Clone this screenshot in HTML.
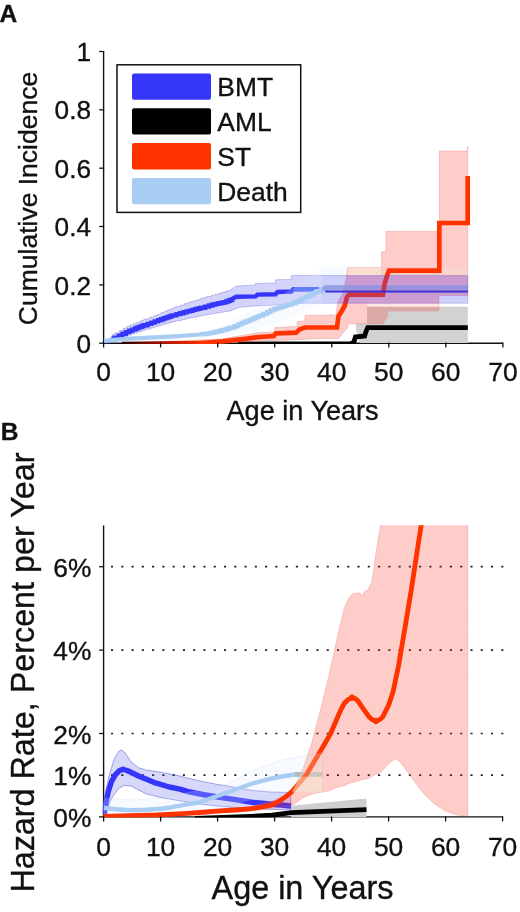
<!DOCTYPE html>
<html><head><meta charset="utf-8"><title>Figure</title>
<style>
html,body{margin:0;padding:0;background:#fff}
svg{display:block}
text{font-family:"Liberation Sans",sans-serif;fill:#111;stroke:#111;stroke-width:0.35px}
</style></head><body>
<svg width="520" height="912" viewBox="0 0 520 912">
<rect width="520" height="912" fill="#fff"/>
<g id="panelA">
<path d="M103.6,51.5 V343.2 H503" fill="none" stroke="#111" stroke-width="1.4"/>
<defs><clipPath id="ca"><rect x="102.9" y="40" width="420" height="304"/></clipPath></defs>
<g clip-path="url(#ca)">
<defs><clipPath id="cl"><rect x="100" y="40" width="222" height="310"/></clipPath><clipPath id="cr"><rect x="322" y="40" width="200" height="310"/></clipPath></defs>
<path d="M103.8,342.4 L108.0,341.0 L113.0,334.0 L114.9,334.0 L114.9,332.9 L119.1,332.9 L119.1,330.4 L123.1,330.4 L123.1,328.1 L126.8,328.1 L126.8,326.3 L130.3,326.3 L130.3,324.9 L133.5,324.9 L133.5,323.6 L136.4,323.6 L136.4,322.4 L139.1,322.4 L139.1,321.4 L141.5,321.4 L141.5,320.4 L143.7,320.4 L143.7,319.5 L145.6,319.5 L145.6,318.7 L149.9,318.7 L149.9,317.1 L153.8,317.1 L153.8,315.5 L157.5,315.5 L157.5,314.0 L161.0,314.0 L161.0,312.6 L164.2,312.6 L164.2,311.3 L167.1,311.3 L167.1,310.1 L169.8,310.1 L169.8,309.1 L172.3,309.1 L172.3,308.1 L174.4,308.1 L174.4,307.2 L176.4,307.2 L176.4,306.5 L180.6,306.5 L180.6,305.0 L184.6,305.0 L184.6,303.6 L188.3,303.6 L188.3,302.3 L191.7,302.3 L191.7,301.2 L194.9,301.2 L194.9,300.3 L197.9,300.3 L197.9,299.4 L200.6,299.4 L200.6,298.6 L203.0,298.6 L203.0,297.9 L205.2,297.9 L205.2,297.2 L207.1,297.2 L207.1,296.6 L211.3,296.6 L211.3,295.4 L215.3,295.4 L215.3,294.2 L219.0,294.2 L219.0,293.1 L222.4,293.1 L222.4,292.1 L225.6,292.1 L225.6,291.1 L228.6,291.1 L228.6,290.4 L231.3,290.4 L231.3,289.2 L232.0,289.2 L232.0,288.7 L236.3,286.0 L255.4,285.0 L255.4,283.6 L275.5,283.0 L275.5,279.8 L291.3,279.4 L291.3,275.6 L467.8,275.6 L467.8,303.2 L304.0,303.2 L293.5,304.1 L272.3,305.2 L251.0,306.3 L240.6,307.3 L232.0,309.9 L232.0,310.6 L229.6,310.6 L229.6,311.2 L226.6,311.2 L226.6,311.7 L223.4,311.7 L223.4,312.3 L220.0,312.3 L220.0,312.9 L216.3,312.9 L216.3,313.5 L212.3,313.5 L212.3,314.3 L208.1,314.3 L208.1,314.7 L206.2,314.7 L206.2,315.1 L204.0,315.1 L204.0,315.5 L201.6,315.5 L201.6,316.0 L198.9,316.0 L198.9,316.6 L195.9,316.6 L195.9,317.3 L192.7,317.3 L192.7,317.9 L189.3,317.9 L189.3,318.7 L185.6,318.7 L185.6,319.6 L181.6,319.6 L181.6,320.5 L177.4,320.5 L177.4,320.9 L175.4,320.9 L175.4,321.5 L173.3,321.5 L173.3,322.2 L170.8,322.2 L170.8,322.9 L168.1,322.9 L168.1,323.7 L165.2,323.7 L165.2,324.6 L162.0,324.6 L162.0,325.6 L158.5,325.6 L158.5,326.6 L154.8,326.6 L154.8,327.8 L150.9,327.8 L150.9,329.1 L146.6,329.1 L146.6,329.7 L144.7,329.7 L144.7,330.4 L142.5,330.4 L142.5,331.2 L140.1,331.2 L140.1,332.0 L137.4,332.0 L137.4,333.0 L134.5,333.0 L134.5,334.0 L131.3,334.0 L131.3,335.1 L127.8,335.1 L127.8,336.4 L124.1,336.4 L124.1,338.4 L120.1,338.4 L120.1,340.4 L115.9,340.4 L115.9,341.4 L114.0,341.4 L113.8,341.5 L110.0,343.5 L103.8,343.5Z" clip-path="url(#cl)" fill="#3535f0" fill-opacity="0.22" stroke="#3535c8" stroke-opacity="0.28" stroke-width="0.9"/>
<path d="M112.5,339.0 L113.0,338.7 L114.8,338.7 L114.8,337.8 L118.8,337.8 L118.8,335.7 L122.5,335.7 L122.5,333.8 L126.0,333.8 L126.0,332.1 L129.2,332.1 L129.2,330.8 L132.2,330.8 L132.2,329.6 L135.0,329.6 L135.0,328.5 L137.5,328.5 L137.5,327.5 L139.8,327.5 L139.8,326.7 L141.8,326.7 L141.8,326.0 L143.6,326.0 L143.6,325.3 L147.6,325.3 L147.6,323.9 L151.3,323.9 L151.3,322.6 L154.8,322.6 L154.8,321.4 L158.0,321.4 L158.0,320.3 L161.0,320.3 L161.0,319.3 L163.8,319.3 L163.8,318.3 L166.3,318.3 L166.3,317.5 L168.6,317.5 L168.6,316.7 L170.6,316.7 L170.6,316.0 L172.4,316.0 L172.4,315.4 L176.4,315.4 L176.4,314.1 L180.1,314.1 L180.1,313.2 L183.6,313.2 L183.6,312.3 L186.8,312.3 L186.8,311.4 L189.8,311.4 L189.8,310.7 L192.6,310.7 L192.6,309.9 L195.1,309.9 L195.1,309.3 L197.4,309.3 L197.4,308.7 L199.4,308.7 L199.4,308.2 L201.2,308.2 L201.2,307.7 L205.2,307.7 L205.2,306.6 L208.9,306.6 L208.9,305.5 L212.4,305.5 L212.4,304.5 L215.6,304.5 L215.6,303.9 L218.6,303.9 L218.6,303.3 L221.4,303.3 L221.4,302.7 L223.9,302.7 L223.9,302.2 L226.2,302.2 L226.2,301.5 L228.2,301.5 L228.2,300.7 L230.0,300.7 L230.0,300.0 L232.0,300.0 L232.0,299.0 L236.3,296.8 L255.4,296.4 L257.5,294.6 L275.5,294.3 L277.6,292.0 L291.3,291.5 L293.5,289.3 L318.8,289.3" fill="none" stroke="#3636fa" stroke-width="4.4" stroke-linejoin="miter"/>
<path d="M293.5,289.3 H318.8" fill="none" stroke="#4a7df5" stroke-opacity="0.6" stroke-width="4.6"/>
<path d="M200.0,333.0 L225.0,324.0 L245.0,314.0 L260.0,306.0 L280.0,296.0 L300.0,284.0 L322.0,267.0 L467.8,267.0 L467.8,300.0 L330.0,300.0 L310.0,308.0 L290.0,318.0 L260.0,329.0 L225.0,336.0 L200.0,338.0Z" fill="#dbe9fb" fill-opacity="0.22"/>
<path d="M104.0,340.8 L125.0,338.8 L150.0,337.7 L175.0,336.3 L200.0,334.5 L201.8,334.5 L201.8,334.2 L205.8,334.2 L205.8,333.6 L209.5,333.6 L209.5,333.0 L213.0,333.0 L213.0,332.4 L216.2,332.4 L216.2,331.6 L219.2,331.6 L219.2,330.9 L222.0,330.9 L222.0,330.2 L224.5,330.2 L224.5,329.6 L226.8,329.6 L226.8,328.9 L228.8,328.9 L228.8,328.2 L230.6,328.2 L230.6,327.6 L234.6,327.6 L234.6,326.1 L238.3,326.1 L238.3,324.4 L241.8,324.4 L241.8,322.9 L245.0,322.9 L245.0,321.6 L248.0,321.6 L248.0,320.5 L250.8,320.5 L250.8,319.4 L253.3,319.4 L253.3,318.3 L255.6,318.3 L255.6,317.3 L257.6,317.3 L257.6,316.5 L259.4,316.5 L259.4,315.7 L263.4,315.7 L263.4,313.9 L267.1,313.9 L267.1,312.1 L270.6,312.1 L270.6,310.4 L273.8,310.4 L273.8,309.1 L276.8,309.1 L276.8,308.2 L279.6,308.2 L279.6,307.4 L282.1,307.4 L282.1,306.6 L284.4,306.6 L284.4,305.9 L286.4,305.9 L286.4,305.2 L288.2,305.2 L288.2,304.7 L292.2,304.7 L292.2,303.4 L295.9,303.4 L295.9,301.8 L299.4,301.8 L299.4,300.1 L302.6,300.1 L302.6,298.5 L305.6,298.5 L305.6,297.0 L308.4,297.0 L308.4,295.6 L310.9,295.6 L310.9,294.4 L313.2,294.4 L313.2,293.2 L315.2,293.2 L315.2,292.2 L317.0,292.2 L317.0,291.2 L321.0,291.2 L321.0,289.0 L324.7,289.0 L324.7,288.4 L328.2,288.4 L328.2,287.7 L329.0,287.7 L329.0,287.6 L467.8,287.5" fill="none" stroke="#a9ccf3" stroke-width="4.2" stroke-linejoin="miter"/>
<path d="M356.0,323.8 L367.0,323.8 L367.0,306.7 L467.8,306.7 L467.8,343.0 L360.0,343.0 L356.0,330.0Z" fill="#d2d2d2"/>
<rect x="238" y="341.5" width="116" height="3" fill="#000"/>
<path d="M351.0,343.6 L353.8,342.5 L355.4,337.0 L364.6,336.0 L366.0,331.5 L367.7,327.6 L467.8,327.6" fill="none" stroke="#000" stroke-width="4.8" stroke-linejoin="miter"/>
<path d="M150.0,342.5 L220.0,339.0 L245.0,335.0 L257.5,332.7 L274.7,332.0 L274.7,327.5 L297.2,326.5 L297.2,321.4 L305.0,321.0 L305.0,315.4 L336.0,315.0 L337.9,301.5 L343.0,292.9 L346.5,277.3 L347.4,267.7 L381.6,267.7 L381.6,251.7 L385.9,251.7 L385.9,231.4 L439.4,231.4 L439.4,151.0 L467.7,151.0 L467.7,146.0 L467.7,295.5 L439.0,295.5 L439.0,311.0 L388.0,311.0 L387.7,316.0 L383.0,323.8 L348.5,323.8 L347.0,328.5 L340.8,335.4 L338.5,338.5 L320.0,338.5 L300.0,339.5 L260.0,341.0 L220.0,343.0 L150.0,343.5Z" fill="#ff2814" fill-opacity="0.23" stroke="#e08080" stroke-opacity="0.45" stroke-width="0.8"/>
<rect x="347.8" y="268" width="33.5" height="7.6" fill="#fbe3d0" fill-opacity="0.8"/>
<rect x="439.8" y="267" width="27.6" height="8.6" fill="#fbe3d0" fill-opacity="0.45"/>
<rect x="367.4" y="303.6" width="71.3" height="3" fill="#fff" fill-opacity="0.5"/>
<path d="M324,287.5 H467.8" fill="none" stroke="#b1bedd" stroke-width="4.6"/>
<defs><linearGradient id="rg" gradientUnits="userSpaceOnUse" x1="120" y1="0" x2="205" y2="0"><stop offset="0" stop-color="#200000"/><stop offset="0.45" stop-color="#a01000"/><stop offset="1" stop-color="#ff3300"/></linearGradient></defs>
<path d="M122,344 L160,343.5 L201,343" fill="none" stroke="url(#rg)" stroke-width="4.7"/>
<path d="M200.0,343.0 L223.0,341.4 L245.0,338.8 L260.0,337.0 L273.8,336.0 L275.6,333.5 L296.0,332.7 L299.8,329.2 L305.0,327.5 L337.0,327.5 L338.5,316.0 L341.5,311.5 L344.6,306.0 L347.0,297.0 L349.0,294.6 L383.0,294.6 L384.6,283.8 L387.7,273.8 L389.0,270.7 L439.3,270.7 L439.3,223.0 L467.7,223.0 L467.7,176.0" fill="none" stroke="#ff3300" stroke-width="4.7" stroke-linejoin="miter"/>
<clipPath id="cra"><path d="M150.0,342.5 L220.0,339.0 L245.0,335.0 L257.5,332.7 L274.7,332.0 L274.7,327.5 L297.2,326.5 L297.2,321.4 L305.0,321.0 L305.0,315.4 L336.0,315.0 L337.9,301.5 L343.0,292.9 L346.5,277.3 L347.4,267.7 L381.6,267.7 L381.6,251.7 L385.9,251.7 L385.9,231.4 L439.4,231.4 L439.4,151.0 L467.7,151.0 L467.7,146.0 L467.7,295.5 L439.0,295.5 L439.0,311.0 L388.0,311.0 L387.7,316.0 L383.0,323.8 L348.5,323.8 L347.0,328.5 L340.8,335.4 L338.5,338.5 L320.0,338.5 L300.0,339.5 L260.0,341.0 L220.0,343.0 L150.0,343.5Z"/></clipPath>
<rect x="322" y="275.6" width="145.8" height="27.6" clip-path="url(#cra)" fill="#d040c8" fill-opacity="0.12"/>
<path d="M103.8,342.4 L108.0,341.0 L113.0,334.0 L114.9,334.0 L114.9,332.9 L119.1,332.9 L119.1,330.4 L123.1,330.4 L123.1,328.1 L126.8,328.1 L126.8,326.3 L130.3,326.3 L130.3,324.9 L133.5,324.9 L133.5,323.6 L136.4,323.6 L136.4,322.4 L139.1,322.4 L139.1,321.4 L141.5,321.4 L141.5,320.4 L143.7,320.4 L143.7,319.5 L145.6,319.5 L145.6,318.7 L149.9,318.7 L149.9,317.1 L153.8,317.1 L153.8,315.5 L157.5,315.5 L157.5,314.0 L161.0,314.0 L161.0,312.6 L164.2,312.6 L164.2,311.3 L167.1,311.3 L167.1,310.1 L169.8,310.1 L169.8,309.1 L172.3,309.1 L172.3,308.1 L174.4,308.1 L174.4,307.2 L176.4,307.2 L176.4,306.5 L180.6,306.5 L180.6,305.0 L184.6,305.0 L184.6,303.6 L188.3,303.6 L188.3,302.3 L191.7,302.3 L191.7,301.2 L194.9,301.2 L194.9,300.3 L197.9,300.3 L197.9,299.4 L200.6,299.4 L200.6,298.6 L203.0,298.6 L203.0,297.9 L205.2,297.9 L205.2,297.2 L207.1,297.2 L207.1,296.6 L211.3,296.6 L211.3,295.4 L215.3,295.4 L215.3,294.2 L219.0,294.2 L219.0,293.1 L222.4,293.1 L222.4,292.1 L225.6,292.1 L225.6,291.1 L228.6,291.1 L228.6,290.4 L231.3,290.4 L231.3,289.2 L232.0,289.2 L232.0,288.7 L236.3,286.0 L255.4,285.0 L255.4,283.6 L275.5,283.0 L275.5,279.8 L291.3,279.4 L291.3,275.6 L467.8,275.6 L467.8,303.2 L304.0,303.2 L293.5,304.1 L272.3,305.2 L251.0,306.3 L240.6,307.3 L232.0,309.9 L232.0,310.6 L229.6,310.6 L229.6,311.2 L226.6,311.2 L226.6,311.7 L223.4,311.7 L223.4,312.3 L220.0,312.3 L220.0,312.9 L216.3,312.9 L216.3,313.5 L212.3,313.5 L212.3,314.3 L208.1,314.3 L208.1,314.7 L206.2,314.7 L206.2,315.1 L204.0,315.1 L204.0,315.5 L201.6,315.5 L201.6,316.0 L198.9,316.0 L198.9,316.6 L195.9,316.6 L195.9,317.3 L192.7,317.3 L192.7,317.9 L189.3,317.9 L189.3,318.7 L185.6,318.7 L185.6,319.6 L181.6,319.6 L181.6,320.5 L177.4,320.5 L177.4,320.9 L175.4,320.9 L175.4,321.5 L173.3,321.5 L173.3,322.2 L170.8,322.2 L170.8,322.9 L168.1,322.9 L168.1,323.7 L165.2,323.7 L165.2,324.6 L162.0,324.6 L162.0,325.6 L158.5,325.6 L158.5,326.6 L154.8,326.6 L154.8,327.8 L150.9,327.8 L150.9,329.1 L146.6,329.1 L146.6,329.7 L144.7,329.7 L144.7,330.4 L142.5,330.4 L142.5,331.2 L140.1,331.2 L140.1,332.0 L137.4,332.0 L137.4,333.0 L134.5,333.0 L134.5,334.0 L131.3,334.0 L131.3,335.1 L127.8,335.1 L127.8,336.4 L124.1,336.4 L124.1,338.4 L120.1,338.4 L120.1,340.4 L115.9,340.4 L115.9,341.4 L114.0,341.4 L113.8,341.5 L110.0,343.5 L103.8,343.5Z" clip-path="url(#cr)" fill="#3535f0" fill-opacity="0.22" stroke="#3535c8" stroke-opacity="0.28" stroke-width="0.9"/>
<path d="M325.3,291.5 H467.8" fill="none" stroke="#3a2ed8" stroke-width="2"/>
</g>
<path d="M103.6,342.5 V347.5" stroke="#111" stroke-width="1.3"/>
<text x="103.6" y="381" font-size="26.4" text-anchor="middle">0</text>
<path d="M160.6,342.5 V347.5" stroke="#111" stroke-width="1.3"/>
<text x="160.6" y="381" font-size="26.4" text-anchor="middle">10</text>
<path d="M217.7,342.5 V347.5" stroke="#111" stroke-width="1.3"/>
<text x="217.7" y="381" font-size="26.4" text-anchor="middle">20</text>
<path d="M274.7,342.5 V347.5" stroke="#111" stroke-width="1.3"/>
<text x="274.7" y="381" font-size="26.4" text-anchor="middle">30</text>
<path d="M331.8,342.5 V347.5" stroke="#111" stroke-width="1.3"/>
<text x="331.8" y="381" font-size="26.4" text-anchor="middle">40</text>
<path d="M388.8,342.5 V347.5" stroke="#111" stroke-width="1.3"/>
<text x="388.8" y="381" font-size="26.4" text-anchor="middle">50</text>
<path d="M445.8,342.5 V347.5" stroke="#111" stroke-width="1.3"/>
<text x="445.8" y="381" font-size="26.4" text-anchor="middle">60</text>
<path d="M502.9,342.5 V347.5" stroke="#111" stroke-width="1.3"/>
<text x="502.9" y="381" font-size="26.4" text-anchor="middle">70</text>
<path d="M99.2,343.2 H104.2" stroke="#111" stroke-width="1.3"/>
<text x="91" y="352.8" font-size="26.2" text-anchor="end">0</text>
<path d="M99.2,284.9 H104.2" stroke="#111" stroke-width="1.3"/>
<text x="91" y="294.5" font-size="26.2" text-anchor="end">0.2</text>
<path d="M99.2,226.5 H104.2" stroke="#111" stroke-width="1.3"/>
<text x="91" y="236.1" font-size="26.2" text-anchor="end">0.4</text>
<path d="M99.2,168.2 H104.2" stroke="#111" stroke-width="1.3"/>
<text x="91" y="177.8" font-size="26.2" text-anchor="end">0.6</text>
<path d="M99.2,109.8 H104.2" stroke="#111" stroke-width="1.3"/>
<text x="91" y="119.4" font-size="26.2" text-anchor="end">0.8</text>
<path d="M99.2,51.5 H104.2" stroke="#111" stroke-width="1.3"/>
<text x="91" y="61.1" font-size="26.2" text-anchor="end">1</text>
<text x="302.6" y="420" font-size="27.1" text-anchor="middle">Age in Years</text>
<text transform="translate(36.5,198.5) rotate(-90)" font-size="26.5" text-anchor="middle">Cumulative Incidence</text>
<text x="-0.5" y="22.3" font-size="24.5" font-weight="bold">A</text>
<rect x="117" y="64.8" width="183.7" height="147.6" fill="#fff" stroke="#111" stroke-width="1.5"/>
<rect x="132" y="73.5" width="79" height="26.3" rx="2" fill="#3636fa"/>
<text x="217.3" y="96.4" font-size="26.4">BMT</text>
<rect x="132" y="108.3" width="79" height="26.3" rx="2" fill="#000"/>
<text x="217.3" y="131.2" font-size="26.4">AML</text>
<rect x="132" y="143.1" width="79" height="26.3" rx="2" fill="#ff3300"/>
<text x="217.3" y="166.0" font-size="26.4">ST</text>
<rect x="132" y="177.9" width="79" height="26.3" rx="2" fill="#a9ccf3"/>
<text x="217.3" y="200.8" font-size="26.4">Death</text>
</g>
<g id="panelB">
<defs><clipPath id="cb"><rect x="102.7" y="525.2" width="410" height="292.4"/></clipPath></defs>
<path d="M111,775.2 H504" stroke="#222" stroke-width="1.7" stroke-dasharray="2.1 8.17"/>
<path d="M111,733.5 H504" stroke="#222" stroke-width="1.7" stroke-dasharray="2.1 8.17"/>
<path d="M111,650.1 H504" stroke="#222" stroke-width="1.7" stroke-dasharray="2.1 8.17"/>
<path d="M111,566.7 H504" stroke="#222" stroke-width="1.7" stroke-dasharray="2.1 8.17"/>
<path d="M103.6,525.5 V816.9 H503" fill="none" stroke="#111" stroke-width="1.4"/>
<g clip-path="url(#cb)">
<path d="M103.8,806.0 L106.0,790.0 L109.2,775.4 L113.8,760.0 L118.5,751.5 L121.5,750.0 L125.4,753.0 L130.8,761.5 L138.5,767.7 L146.0,770.0 L161.5,772.3 L180.0,776.0 L187.3,778.0 L202.7,781.5 L218.0,784.5 L233.5,787.0 L253.8,790.6 L270.0,792.0 L290.8,792.5 L290.8,810.0 L270.0,809.3 L253.8,808.7 L233.5,807.5 L218.0,806.0 L202.7,804.4 L180.0,800.8 L161.5,797.7 L146.0,793.8 L138.5,790.0 L130.8,786.0 L124.6,785.4 L118.5,788.5 L112.3,797.0 L107.5,808.0 L104.0,816.0Z" fill="#3535e6" fill-opacity="0.2" stroke="#3535c8" stroke-opacity="0.42" stroke-width="1"/>
<path d="M104.2,814.0 L104.6,812.0 L106.2,801.5 L108.5,790.8 L111.5,781.5 L115.4,774.6 L119.2,770.8 L123.0,769.2 L127.7,770.8 L138.5,776.0 L153.8,782.3 L169.2,787.0 L180.0,789.2 L187.3,791.4 L202.7,794.5 L218.0,797.0 L233.5,799.4 L253.8,802.5 L270.0,804.0 L291.0,806.0" fill="none" stroke="#3636fa" stroke-width="5.4" stroke-linejoin="round"/>
<path id="dcb" d="M104.0,798.0 L130.0,800.0 L160.0,798.0 L200.0,790.0 L227.0,784.4 L253.8,769.6 L280.8,760.2 L302.3,756.0 L322.3,752.6 L322.3,790.5 L290.8,792.0 L270.0,795.0 L253.8,799.0 L227.0,806.0 L200.0,811.0 L160.0,814.0 L104.0,814.0Z" fill="#dbe9fb" fill-opacity="0.22" stroke="#a9ccf3" stroke-opacity="0.25" stroke-width="0.8"/>
<path d="M104.0,807.7 L115.4,809.3 L130.8,810.2 L146.0,809.8 L161.5,808.7 L172.0,807.2 L180.0,805.6 L187.3,804.4 L200.0,802.3 L227.0,792.5 L253.8,783.0 L270.0,778.8 L281.5,776.5 L293.0,774.8 L296.0,774.4 L322.3,774.3" fill="none" stroke="#a9ccf3" stroke-width="4.4" stroke-linejoin="round"/>
<path d="M291.2,805.8 L366.5,798.5 V817.5 H291.2 Z" fill="#cfcfcf"/>
<path d="M195,818.4 L250,816.4 L272,815.2 L291.5,812.7 L366.5,809.6" fill="none" stroke="#000" stroke-width="4.8"/>
<path id="rcb" d="M200.0,812.0 L253.8,806.0 L275.0,800.0 L287.0,795.0 L292.0,792.5 L298.0,780.0 L303.8,767.0 L311.5,743.8 L319.2,715.0 L323.0,700.0 L328.8,676.0 L334.6,649.6 L339.4,628.0 L344.2,608.8 L348.0,599.2 L352.9,593.5 L359.6,593.0 L362.5,595.4 L364.4,591.5 L368.3,589.6 L372.0,581.0 L376.2,551.5 L380.6,525.0 L380.6,500.0 L467.8,500.0 L467.7,816.0 L457.0,815.0 L445.4,811.0 L433.8,803.5 L422.3,792.0 L410.8,776.5 L401.0,763.0 L395.4,758.5 L389.6,763.0 L380.0,772.7 L374.0,775.0 L368.5,778.5 L362.0,779.5 L357.0,781.5 L350.0,783.0 L345.0,785.5 L337.7,787.0 L330.0,790.5 L322.3,792.0 L312.0,794.0 L303.0,797.7 L291.5,806.0 L253.8,810.5 L200.0,814.5Z" fill="#ff2814" fill-opacity="0.23" stroke="#e08080" stroke-opacity="0.45" stroke-width="0.8"/>
<clipPath id="crc"><path d="M200.0,812.0 L253.8,806.0 L275.0,800.0 L287.0,795.0 L292.0,792.5 L298.0,780.0 L303.8,767.0 L311.5,743.8 L319.2,715.0 L323.0,700.0 L328.8,676.0 L334.6,649.6 L339.4,628.0 L344.2,608.8 L348.0,599.2 L352.9,593.5 L359.6,593.0 L362.5,595.4 L364.4,591.5 L368.3,589.6 L372.0,581.0 L376.2,551.5 L380.6,525.0 L380.6,500.0 L467.8,500.0 L467.7,816.0 L457.0,815.0 L445.4,811.0 L433.8,803.5 L422.3,792.0 L410.8,776.5 L401.0,763.0 L395.4,758.5 L389.6,763.0 L380.0,772.7 L374.0,775.0 L368.5,778.5 L362.0,779.5 L357.0,781.5 L350.0,783.0 L345.0,785.5 L337.7,787.0 L330.0,790.5 L322.3,792.0 L312.0,794.0 L303.0,797.7 L291.5,806.0 L253.8,810.5 L200.0,814.5Z"/></clipPath>
<path d="M294.8,774.3 H321.5" stroke="#b9b7b9" stroke-width="4.8"/>
<path d="M103.6,816.3 L156.5,815.0 L187.3,813.3 L200.0,812.5 L220.0,810.8 L235.0,810.0 L250.0,808.8 L262.0,807.0 L270.0,805.4 L276.0,803.0 L281.5,799.6 L287.0,795.8 L292.0,791.5 L300.0,782.3 L306.7,774.2 L316.0,758.5 L322.0,748.5 L330.8,733.3 L338.5,715.0 L341.5,708.5 L344.2,703.5 L348.0,699.6 L352.0,697.7 L355.0,698.5 L357.7,700.6 L363.5,709.2 L369.2,717.0 L372.5,719.8 L376.0,720.8 L379.5,719.8 L382.7,717.0 L388.5,705.4 L393.0,692.0 L398.3,667.0 L404.6,630.0 L411.5,588.5 L418.5,542.3 L421.2,525.2 L424.0,505.0" fill="none" stroke="#ff3300" stroke-width="4.8" stroke-linejoin="round"/>
<circle cx="352" cy="697.6" r="3.1" fill="#ff3300"/><circle cx="376" cy="720.9" r="3.1" fill="#ff3300"/>
<path d="M104.0,798.0 L130.0,800.0 L160.0,798.0 L200.0,790.0 L227.0,784.4 L253.8,769.6 L280.8,760.2 L302.3,756.0 L322.3,752.6 L322.3,790.5 L290.8,792.0 L270.0,795.0 L253.8,799.0 L227.0,806.0 L200.0,811.0 L160.0,814.0 L104.0,814.0Z" clip-path="url(#crc)" fill="#fbf0d8" fill-opacity="0.25"/>
<rect x="291.5" y="776.6" width="30.8" height="15.7" clip-path="url(#crc)" fill="#fbf0d8" fill-opacity="0.4"/>
</g>
<path d="M103.6,816.4 V821.5" stroke="#111" stroke-width="1.3"/>
<text x="103.6" y="855.5" font-size="26.4" text-anchor="middle">0</text>
<path d="M160.6,816.4 V821.5" stroke="#111" stroke-width="1.3"/>
<text x="160.6" y="855.5" font-size="26.4" text-anchor="middle">10</text>
<path d="M217.6,816.4 V821.5" stroke="#111" stroke-width="1.3"/>
<text x="217.6" y="855.5" font-size="26.4" text-anchor="middle">20</text>
<path d="M274.6,816.4 V821.5" stroke="#111" stroke-width="1.3"/>
<text x="274.6" y="855.5" font-size="26.4" text-anchor="middle">30</text>
<path d="M331.6,816.4 V821.5" stroke="#111" stroke-width="1.3"/>
<text x="331.6" y="855.5" font-size="26.4" text-anchor="middle">40</text>
<path d="M388.6,816.4 V821.5" stroke="#111" stroke-width="1.3"/>
<text x="388.6" y="855.5" font-size="26.4" text-anchor="middle">50</text>
<path d="M445.6,816.4 V821.5" stroke="#111" stroke-width="1.3"/>
<text x="445.6" y="855.5" font-size="26.4" text-anchor="middle">60</text>
<path d="M502.6,816.4 V821.5" stroke="#111" stroke-width="1.3"/>
<text x="502.6" y="855.5" font-size="26.4" text-anchor="middle">70</text>
<path d="M99.1,816.9 H104" stroke="#111" stroke-width="1.3"/>
<text x="91.3" y="827.0" font-size="26.3" text-anchor="end">0%</text>
<path d="M99.1,775.2 H104" stroke="#111" stroke-width="1.3"/>
<text x="91.3" y="785.3" font-size="26.3" text-anchor="end">1%</text>
<path d="M99.1,733.5 H104" stroke="#111" stroke-width="1.3"/>
<text x="91.3" y="743.6" font-size="26.3" text-anchor="end">2%</text>
<path d="M99.1,650.1 H104" stroke="#111" stroke-width="1.3"/>
<text x="91.3" y="660.2" font-size="26.3" text-anchor="end">4%</text>
<path d="M99.1,566.7 H104" stroke="#111" stroke-width="1.3"/>
<text x="91.3" y="576.8" font-size="26.3" text-anchor="end">6%</text>
<text x="302.5" y="898.8" font-size="32.4" text-anchor="middle">Age in Years</text>
<text transform="translate(34.3,672.6) rotate(-90)" font-size="33" textLength="440" lengthAdjust="spacingAndGlyphs" text-anchor="middle">Hazard Rate, Percent per Year</text>
<text x="0.7" y="439.5" font-size="24.5" font-weight="bold">B</text>
</g>
</svg>
</body></html>
